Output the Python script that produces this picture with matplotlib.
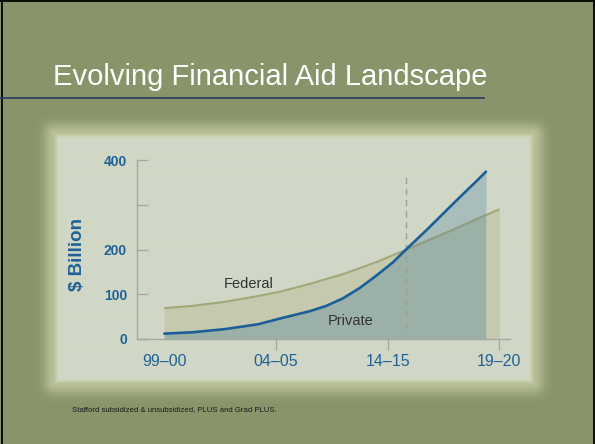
import numpy as np
import matplotlib
matplotlib.use("Agg")
import matplotlib.pyplot as plt
from matplotlib.lines import Line2D

# Dane (oś x: indeks okresu, 0 = 99-00 ... 3 = 19-20)
periods = ["99\u201300", "04\u201305", "14\u201315", "19\u201320"]
fed_x = [0, 0.25, 0.54, 0.84, 1.04, 1.3, 1.6, 1.9, 2.16, 2.5, 2.8, 3.0]
fed_v = [69, 74, 83, 96, 106, 123, 145, 172, 199, 235, 268, 290]
prv_x = [0, 0.25, 0.54, 0.84, 1.04, 1.3, 1.45, 1.6, 1.75, 1.9, 2.05, 2.16,
         2.35, 2.5, 2.65, 2.8, 2.88]
prv_v = [12, 15, 22, 33, 46, 62, 74, 91, 114, 142, 172, 199,
         244, 281, 318, 354, 374]
crossover_x = 2.16
y_ticks = [0, 100, 200, 300, 400]
y_labels = ["0", "100", "200", "", "400"]

W, H = 595, 444
NARROW = ["DejaVu Sans Condensed", "Liberation Sans"]
SANS = ["Liberation Sans", "DejaVu Sans"]

fig = plt.figure(figsize=(W / 100, H / 100), dpi=100)

# tło slajdu z jasnym panelem i poświatą
bg = np.array([138, 148, 106]) / 255
glow_col = np.array([192, 200, 160]) / 255
panel_col = np.array([209, 215, 198]) / 255
yy, xx = np.mgrid[0:H, 0:W] + 0.5
x0, x1, y0, y1 = 55, 533, 135, 383
dx = np.maximum(np.maximum(x0 - xx, xx - x1), 0)
dy = np.maximum(np.maximum(y0 - yy, yy - y1), 0)
d = np.hypot(dx, dy)
g = (0.85 * np.exp(-(d / 11.0) ** 2))[..., None]
img = bg * (1 - g) + glow_col * g
# miękka krawędź wewnątrz panelu
din = np.minimum(np.minimum(xx - x0, x1 - xx), np.minimum(yy - y0, y1 - yy))
t = np.clip(din / 4.0, 0, 1)[..., None]
inside = (dx == 0) & (dy == 0)
inner = glow_col * (1 - t) + panel_col * t
img[inside] = inner[inside]
bg_ax = fig.add_axes([0, 0, 1, 1])
bg_ax.imshow(img, aspect="auto", extent=(0, W, H, 0), interpolation="bilinear")
bg_ax.set_xlim(0, W)
bg_ax.set_ylim(H, 0)
bg_ax.axis("off")


def fx(px):
    return px / W


def fy(py):
    return 1 - py / H


# ramka slajdu
for xs, ys in [([1.5, 1.5], [0, H]), ([0, W], [1.5, 1.5]), ([593.5, 593.5], [0, H])]:
    fig.add_artist(Line2D([fx(v) for v in xs], [fy(v) for v in ys],
                          color="black", lw=1.3, transform=fig.transFigure))

# tytuł i linia pod nim
fig.text(fx(52.7), fy(85), "Evolving Financial Aid Landscape", color="white",
         fontsize=21, family=NARROW, va="baseline", ha="left")
fig.add_artist(Line2D([0, fx(484)], [fy(98), fy(98)], color="#2b3563", lw=1.2,
                      transform=fig.transFigure))

# przypis
fig.text(fx(71.5), fy(410), "Stafford subsidized & unsubsidized, PLUS and Grad PLUS.",
         color="#1a1a1a", fontsize=5.6, family=SANS, va="center", ha="left")

# wykres
ax = fig.add_axes([fx(136.7), fy(339), (510 - 136.7) / W, (339 - 160) / H])
ax.set_facecolor("none")
ax.set_xlim(-0.247, 3.095)
ax.set_ylim(0, 400)

fed_fill = ax.fill_between(fed_x, fed_v, color="#c5c9ad", lw=0, zorder=1)
prv_fill = ax.fill_between(prv_x, prv_v, color="#a9bdba", lw=0, zorder=2)
both = ax.fill_between(fed_x, fed_v, color="#9bb0a6", lw=0, zorder=3)
both.set_clip_path(prv_fill.get_paths()[0], ax.transData)

ax.plot(fed_x, fed_v, color="#a3a87a", lw=1.5, zorder=4, solid_capstyle="butt")
fed_in = ax.plot(fed_x, fed_v, color="#8c9f86", lw=1.5, zorder=5, solid_capstyle="butt")[0]
fed_in.set_clip_path(prv_fill.get_paths()[0], ax.transData)
ax.plot(prv_x, prv_v, color="#1c5f98", lw=1.9, zorder=6, solid_capstyle="round",
        solid_joinstyle="round")

ax.vlines(crossover_x, 24, 366, colors="#9a9f98", lw=1.0, linestyles=(0, (4.5, 3.5)),
          zorder=3.5)

ax.text(0.752, 124, "Federal", color="#333333", fontsize=10.5, family=NARROW,
        ha="center", va="center", zorder=7)
ax.text(1.667, 40, "Private", color="#333333", fontsize=10.5, family=NARROW,
        ha="center", va="center", zorder=7)

for s in ["top", "right"]:
    ax.spines[s].set_visible(False)
for s in ["left", "bottom"]:
    ax.spines[s].set_color("#a4aa9c")
    ax.spines[s].set_linewidth(1.0)

ax.set_xticks(range(len(periods)))
ax.set_xticklabels(periods, family=NARROW, fontsize=11.5, color="#1f6298")
ax.tick_params(axis="x", direction="out", length=8, width=1.0, color="#a4aa9c", pad=3)
ax.xaxis.get_major_ticks()[0].tick1line.set_visible(False)

ax.set_yticks(y_ticks)
ax.set_yticklabels(y_labels, family=SANS, fontsize=10, color="#1f6298",
                   fontweight="bold")
ax.tick_params(axis="y", direction="in", length=8, width=1.0, color="#a4aa9c", pad=7)

fig.text(fx(77), fy(254), "$ Billion", rotation=90, color="#1f6298", fontsize=13.5,
         fontweight="bold", family=SANS, ha="center", va="center")

fig.savefig("out.png", dpi=100)
